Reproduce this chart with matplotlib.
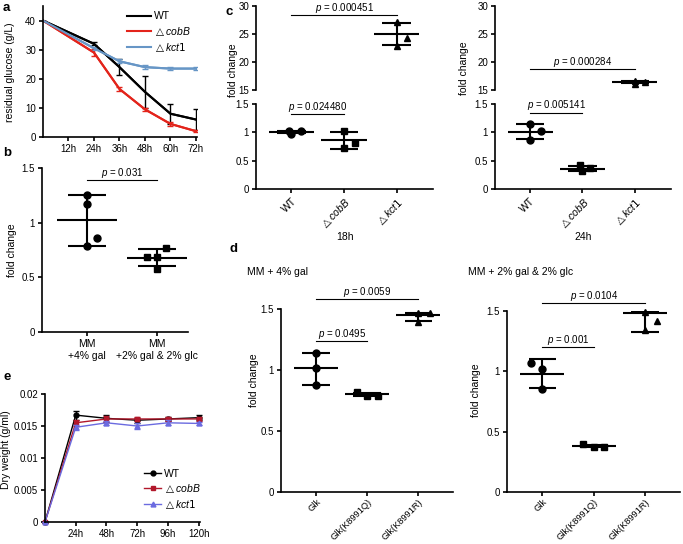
import matplotlib
matplotlib.use("Agg")
import matplotlib.pyplot as plt
import numpy as np

plt.rcParams['font.family'] = ['Liberation Sans', 'DejaVu Sans']
plt.rcParams['mathtext.fontset'] = 'custom'
plt.rcParams['mathtext.rm'] = 'DejaVu Sans'
plt.rcParams['mathtext.it'] = 'Liberation Sans:italic'
plt.rcParams['font.size'] = 7

W, H = 683, 544
fig = plt.figure(figsize=(W / 100, H / 100), dpi=100)


def ax_px(l, t, r, b):
    return fig.add_axes([l / W, 1 - b / H, (r - l) / W, (b - t) / H])


def style(ax, bottom=True):
    for s in ['top', 'right']:
        ax.spines[s].set_visible(False)
    ax.spines['left'].set_linewidth(1.2)
    ax.spines['bottom'].set_linewidth(1.2)
    if not bottom:
        ax.spines['bottom'].set_visible(False)
        ax.tick_params(axis='x', bottom=False, labelbottom=False)
    ax.tick_params(width=1.2, length=3, labelsize=7, pad=2)


def ptxt(v):
    return '$p$ = ' + v


DCOB = '$\\triangle\\it{cobB}$'
DKCT = '$\\triangle\\it{kct1}$'

# ---------------- Panel a data ----------------
a_hours = [0, 24, 36, 48, 60, 72]
a_wt = [40, 32, 24, 15.5, 8, 6]
a_wt_err = [0, 0.5, 2.8, 5.5, 3.5, 3.5]
a_cob = [40, 29, 16.5, 9.5, 4.5, 2]
a_cob_err = [0, 1.2, 0.6, 0.6, 0.6, 0.3]
a_kct = [40, 30.5, 26, 24, 23.5, 23.5]
a_kct_err = [0, 0.5, 0.7, 0.6, 0.6, 0.6]
a_xticks = [12, 24, 36, 48, 60, 72]
a_xticklabels = ['12h', '24h', '36h', '48h', '60h', '72h']

ax = ax_px(43, 6, 197, 137)
style(ax)
a_cols = ['black', '#E3241B', '#6796C6']
a_labels = ['WT', DCOB, DKCT]
handles = []
for ys, es, c, lab in zip([a_wt, a_cob, a_kct], [a_wt_err, a_cob_err, a_kct_err], a_cols, a_labels):
    ax.errorbar(a_hours, ys, yerr=es, color=c, lw=1.5, capsize=2, elinewidth=1)
    h, = ax.plot(a_hours, ys, color=c, lw=1.5, label=lab)
    handles.append(h)
ax.set_xlim(0, 72.5)
ax.set_ylim(0, 45)
ax.set_yticks([0, 10, 20, 30, 40])
ax.set_xticks(a_xticks)
ax.set_xticklabels(a_xticklabels)
ax.legend(handles=handles, loc='upper right', bbox_to_anchor=(1.02, 1.03), frameon=False, fontsize=7.5,
          handlelength=2.3, handletextpad=0.3, labelspacing=0.3)
fig.text(10 / W, 1 - 72 / H, 'residual glucose (g/L)', rotation=90, ha='center', va='center', fontsize=7.5)


def dot(ax, x, pts, offs, mean, lo, hi, marker, mw=0.43, cw=0.27, ms=5):
    ax.hlines(mean, x - mw, x + mw, color='black', lw=1.5, zorder=3)
    ax.hlines([lo, hi], x - cw, x + cw, color='black', lw=1.5, zorder=3)
    ax.vlines(x, lo, hi, color='black', lw=1.5, zorder=3)
    ax.plot(np.array(offs) + x, pts, ls='none', marker=marker, color='black', ms=ms, zorder=4, clip_on=False)


def pbar(ax, x0, x1, y, txt, clip=False):
    ax.plot([x0, x1], [y, y], color='black', lw=0.8, clip_on=clip)
    ax.text((x0 + x1) / 2, y, txt, ha='center', va='bottom', fontsize=7)


# ---------------- Panel b ----------------
b_cats = ['MM\n+4% gal', 'MM\n+2% gal & 2% glc']
b_pts = [[1.25, 1.17, 0.86, 0.79], [0.77, 0.69, 0.685, 0.58]]
b_offs = [[0, 0, 0.14, 0], [0.13, -0.14, 0, 0]]
b_mean = [1.02, 0.68]
b_lo = [0.79, 0.60]
b_hi = [1.25, 0.76]
b_markers = ['o', 's']

ax = ax_px(42, 168, 188, 332)
style(ax)
for i in range(2):
    dot(ax, i, b_pts[i], b_offs[i], b_mean[i], b_lo[i], b_hi[i], b_markers[i])
ax.set_xlim(-0.64, 1.44)
ax.set_ylim(0, 1.5)
ax.set_yticks([0, 0.5, 1, 1.5])
ax.set_yticklabels(['0', '0.5', '1', '1.5'])
ax.set_xticks([0, 1])
ax.set_xticklabels(b_cats, fontsize=7.5)
pbar(ax, 0, 1, 1.39, ptxt('0.031'))
fig.text(12 / W, 1 - 250 / H, 'fold change', rotation=90, ha='center', va='center', fontsize=7.5)

# ---------------- Panel e ----------------
e_hours = [0, 24, 48, 72, 96, 120]
e_wt = [0, 0.0167, 0.0162, 0.0159, 0.0161, 0.0163]
e_wt_err = [0, 0.0007, 0.0005, 0.0004, 0.0003, 0.0004]
e_cob = [0, 0.0155, 0.0161, 0.0161, 0.0161, 0.0161]
e_cob_err = [0, 0.0005, 0.0004, 0.0003, 0.0003, 0.0003]
e_kct = [0, 0.0148, 0.0155, 0.0150, 0.0155, 0.0154]
e_kct_err = [0, 0.0004, 0.0003, 0.0005, 0.0004, 0.0003]
e_xticks = [24, 48, 72, 96, 120]
e_xticklabels = ['24h', '48h', '72h', '96h', '120h']

ax = ax_px(45, 394, 200, 522)
style(ax)
e_cols = ['black', '#B2182B', '#6B6BE0']
e_marks = ['o', 's', '^']
handles = []
for ys, es, c, m, lab in zip([e_wt, e_cob, e_kct], [e_wt_err, e_cob_err, e_kct_err], e_cols, e_marks, a_labels):
    ax.errorbar(e_hours, ys, yerr=es, color=c, lw=1, capsize=2, elinewidth=1, fmt='none', clip_on=False)
    h, = ax.plot(e_hours, ys, color=c, marker=m, ms=3.5, lw=1, label=lab, clip_on=False)
    handles.append(h)
ax.set_xlim(0, 121)
ax.set_ylim(0, 0.02)
ax.set_yticks([0, 0.005, 0.01, 0.015, 0.02])
ax.set_yticklabels(['0', '0.005', '0.01', '0.015', '0.02'])
ax.set_xticks(e_xticks)
ax.set_xticklabels(e_xticklabels)
ax.legend(handles=handles, loc='upper left', bbox_to_anchor=(0.58, 0.49), frameon=False, fontsize=7.5,
          handlelength=1.6, handletextpad=0.3, labelspacing=0.3)
fig.text(6 / W, 1 - 450 / H, 'Dry weight (g/ml)', rotation=90, ha='center', va='center', fontsize=7.5)

# ---------------- Panel c ----------------
c_cats = ['WT', DCOB, DKCT]
c18_pts = [[1.03, 0.97, 1.02], [1.02, 0.72, 0.81], [27.2, 24.2, 22.9]]
c18_offs = [[-0.05, 0, 0.18], [0, 0, 0.2], [0, 0.2, 0]]
c18_mean = [1.01, 0.86, 25.0]
c18_lo = [0.99, 0.71, 23.0]
c18_hi = [1.03, 1.01, 27.0]
c24_pts = [[1.14, 1.03, 0.87], [0.42, 0.37, 0.31], [16.6, 16.4, 16.0]]
c24_offs = [[0, 0.2, 0], [-0.05, 0.15, 0], [0, 0.2, 0]]
c24_mean = [1.01, 0.36, 16.4]
c24_lo = [0.88, 0.31, 16.2]
c24_hi = [1.15, 0.41, 16.6]
c_markers = ['o', 's', '^']


def broken(l, r, pts, offs, mean, lo, hi, xlabel, p_low, p_high, plow_y, phigh_y):
    up = ax_px(l, 6, r, 90)
    lowax = ax_px(l, 104, r, 189)
    style(up, bottom=False)
    style(lowax)
    for i in range(3):
        target = up if mean[i] > 10 else lowax
        dot(target, i, pts[i], offs[i], mean[i], lo[i], hi[i], c_markers[i])
    for a_ in (up, lowax):
        a_.set_xlim(-0.67, 2.69)
    up.set_ylim(15, 30)
    up.set_yticks([15, 20, 25, 30])
    lowax.set_ylim(0, 1.5)
    lowax.set_yticks([0, 0.5, 1, 1.5])
    lowax.set_yticklabels(['0', '0.5', '1', '1.5'])
    lowax.set_xticks([0, 1, 2])
    lowax.set_xticklabels(c_cats, rotation=45, ha='right', rotation_mode='anchor', fontsize=7.5)
    lowax.set_xlabel(xlabel, fontsize=7.5, labelpad=1)
    pbar(lowax, 0, 1, plow_y, p_low)
    pbar(up, 0, 2, phigh_y, p_high)
    return up, lowax


broken(256, 433, c18_pts, c18_offs, c18_mean, c18_lo, c18_hi, '18h',
       ptxt('0.024480'), ptxt('0.000451'), 1.33, 28.4)
broken(495, 671, c24_pts, c24_offs, c24_mean, c24_lo, c24_hi, '24h',
       ptxt('0.005141'), ptxt('0.000284'), 1.35, 18.8)
fig.text(233 / W, 1 - 70 / H, 'fold change', rotation=90, ha='center', va='center', fontsize=7.5)
fig.text(464 / W, 1 - 68 / H, 'fold change', rotation=90, ha='center', va='center', fontsize=7.5)

# ---------------- Panel d ----------------
d_cats = ['Glk', 'Glk(K8991Q)', 'Glk(K8991R)']
dg_pts = [[1.14, 1.02, 0.88], [0.82, 0.79, 0.79], [1.47, 1.47, 1.39]]
dg_offs = [[0, 0, 0], [-0.21, 0, 0.21], [0, 0.22, 0]]
dg_mean = [1.015, 0.80, 1.45]
dg_lo = [0.88, 0.79, 1.40]
dg_hi = [1.14, 0.81, 1.47]
dm_pts = [[1.07, 1.02, 0.85], [0.40, 0.37, 0.37], [1.49, 1.42, 1.34]]
dm_offs = [[-0.23, 0, 0], [-0.2, 0, 0.2], [0, 0.23, 0]]
dm_mean = [0.98, 0.38, 1.48]
dm_lo = [0.86, 0.37, 1.33]
dm_hi = [1.10, 0.39, 1.49]
d_markers = ['o', 's', '^']


def dpanel(l, t, r, b, pts, offs, mean, lo, hi, title, tx, p1, p1y, p2, p2y):
    ax = ax_px(l, t, r, b)
    style(ax)
    for i in range(3):
        dot(ax, i, pts[i], offs[i], mean[i], lo[i], hi[i], d_markers[i])
    ax.set_xlim(-0.69, 2.68)
    ax.set_ylim(0, 1.5)
    ax.set_yticks([0, 0.5, 1, 1.5])
    ax.set_yticklabels(['0', '0.5', '1', '1.5'])
    ax.set_xticks([0, 1, 2])
    ax.set_xticklabels(d_cats, rotation=45, ha='right', rotation_mode='anchor')
    ax.tick_params(axis='x', labelsize=6.7, pad=1)
    pbar(ax, 0, 1, p1y, p1)
    pbar(ax, 0, 2, p2y, p2)
    fig.text(tx / W, 1 - 272 / H, title, ha='left', va='center', fontsize=7.5)
    return ax


dpanel(281, 309, 453, 492, dg_pts, dg_offs, dg_mean, dg_lo, dg_hi, 'MM + 4% gal', 247,
       ptxt('0.0495'), 1.24, ptxt('0.0059'), 1.58)
dpanel(507, 311, 680, 492, dm_pts, dm_offs, dm_mean, dm_lo, dm_hi, 'MM + 2% gal & 2% glc', 468,
       ptxt('0.001'), 1.20, ptxt('0.0104'), 1.57)
fig.text(254 / W, 1 - 380 / H, 'fold change', rotation=90, ha='center', va='center', fontsize=7.5)
fig.text(476 / W, 1 - 390 / H, 'fold change', rotation=90, ha='center', va='center', fontsize=7.5)

# panel letters
for lab, x, y in [('a', 3, 8), ('b', 3, 153), ('c', 226, 12), ('d', 229, 249), ('e', 3, 377)]:
    fig.text(x / W, 1 - y / H, lab, fontsize=9.5, fontweight='bold', ha='left', va='center')

fig.savefig('out.png', dpi=100)
